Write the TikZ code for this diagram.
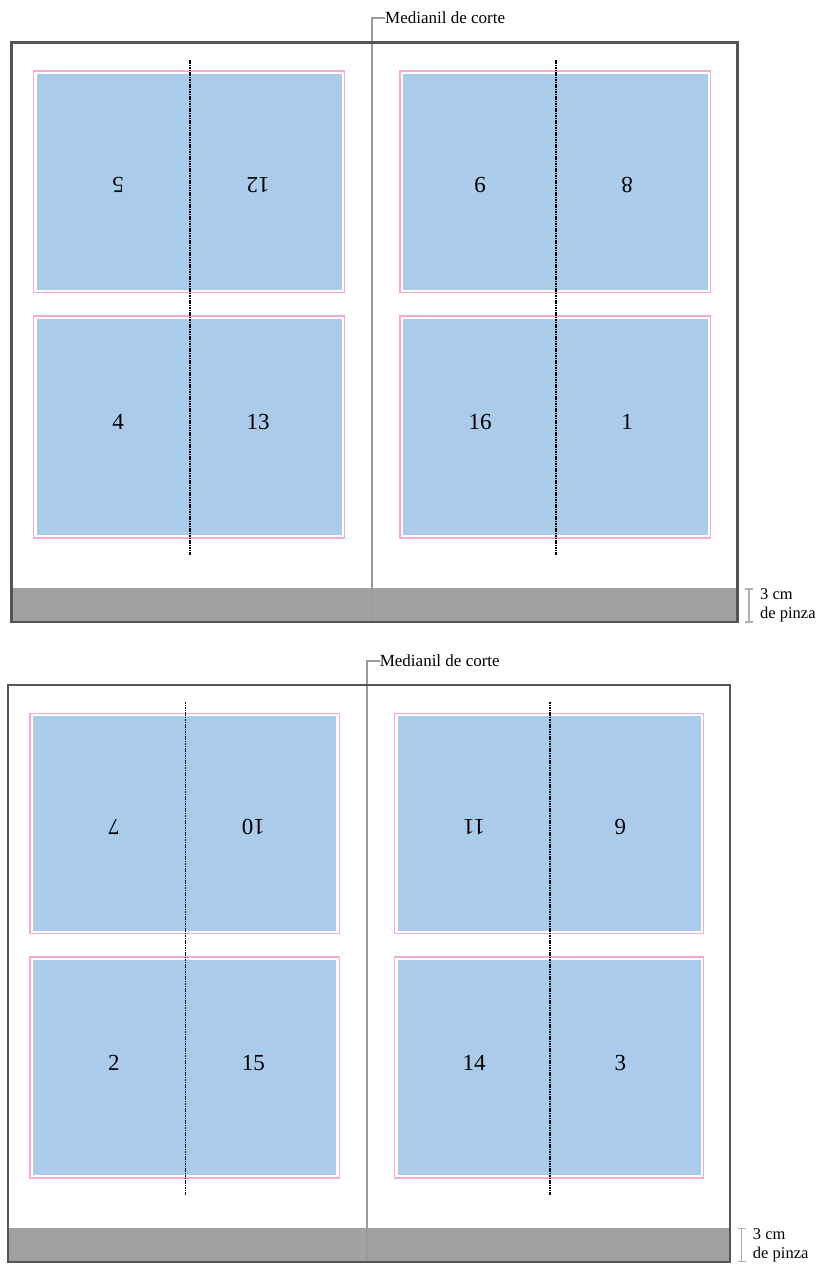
\documentclass[tikz,border=0pt]{standalone}
\usepackage{fontspec}
\setmainfont{Liberation Serif}
\definecolor{pagefill}{HTML}{ABCBEA}
\definecolor{bleed}{HTML}{F6A8D6}
\definecolor{band}{HTML}{A1A19F}
\definecolor{frame}{HTML}{555555}
\definecolor{cutline}{HTML}{9A9A9A}
\tikzset{
  sheetframe/.style={draw=frame, line width=2.2pt},
  gripband/.style={fill=band, draw=none},
  bleedbox/.style={draw=bleed, line width=1.4pt},
  pagebox/.style={fill=pagefill, draw=none},
  foldline/.style={draw=black, line width=1.6pt, dash pattern=on 1.6pt off 0.8pt},
  medline/.style={draw=cutline, line width=2.2pt},
  pagenum/.style={font=\fontsize{23}{25}\selectfont, inner sep=0pt},
  upside/.style={pagenum, rotate=180},
  labeltext/.style={font=\fontsize{17}{19}\selectfont, inner sep=0pt, anchor=west},
  pinzatext/.style={font=\fontsize{16.5}{19}\selectfont, inner sep=0pt, anchor=west, align=left},
  bracketline/.style={draw=cutline!80, line width=1.2pt}
}
\newcommand\drawsheet[9]{%
  % grip band
  \fill[gripband] (11.5,588) rectangle (737.5,622);
  % page boxes
  \foreach \xa/\xb in {33.5/344.5, 400/710.5}{
    \foreach \ya/\yb in {71/292.5, 316/538}{
      \draw[bleedbox] (\xa,\ya) rectangle (\xb,\yb);
      \fill[pagebox] (\xa+3,\ya+3) rectangle (\xb-3,\yb-3);
    }
  }
  % fold lines
  \coordinate (#1fl1) at (190,60);  \coordinate (#1fl2) at (190,555);
  \coordinate (#1fr1) at (556,60);  \coordinate (#1fr2) at (556,555);
  \draw[foldline] (#1fl1) -- (#1fl2);
  \draw[foldline] (#1fr1) -- (#1fr2);
  % medianil
  \node[labeltext] (#1lab) at (385,18) {Medianil de corte};
  \coordinate (#1mtop) at (372,18);
  \coordinate (#1mbot) at (372,622);
  \draw[medline] (#1lab.west) -- (#1mtop) -- (#1mbot);
  % frame
  \draw[sheetframe] (11.5,42.5) rectangle (737.5,622);
  % page numbers
  \node[upside] (#1n1) at (118,185) {#2};
  \node[upside] (#1n2) at (258,185) {#3};
  \node[upside] (#1n3) at (480,185) {#4};
  \node[upside] (#1n4) at (627,185) {#5};
  \node[pagenum] (#1n5) at (118,422) {#6};
  \node[pagenum] (#1n6) at (258,422) {#7};
  \node[pagenum] (#1n7) at (480,422) {#8};
  \node[pagenum] (#1n8) at (627,422) {#9};
  % grip bracket
  \coordinate (#1b1) at (749,589); \coordinate (#1b2) at (749,622);
  \draw[bracketline] (#1b1) -- (#1b2);
  \draw[bracketline] ([xshift=-4]#1b1) -- ([xshift=4]#1b1);
  \draw[bracketline] ([xshift=-4]#1b2) -- ([xshift=4]#1b2);
  \node[pinzatext] (#1pz) at (760,605.5) {3 cm\\de pinza};
}
\begin{document}
\begin{tikzpicture}[x=1pt,y=-1pt]
\useasboundingbox (0,0) rectangle (825,1264);
\begin{scope}
  \drawsheet{a}{5}{12}{9}{8}{4}{13}{16}{1}
\end{scope}
\begin{scope}[shift={(-3.44,642.7)}, scale=0.995]
  \drawsheet{b}{7}{10}{11}{6}{2}{15}{14}{3}
\end{scope}
\end{tikzpicture}
\end{document}
